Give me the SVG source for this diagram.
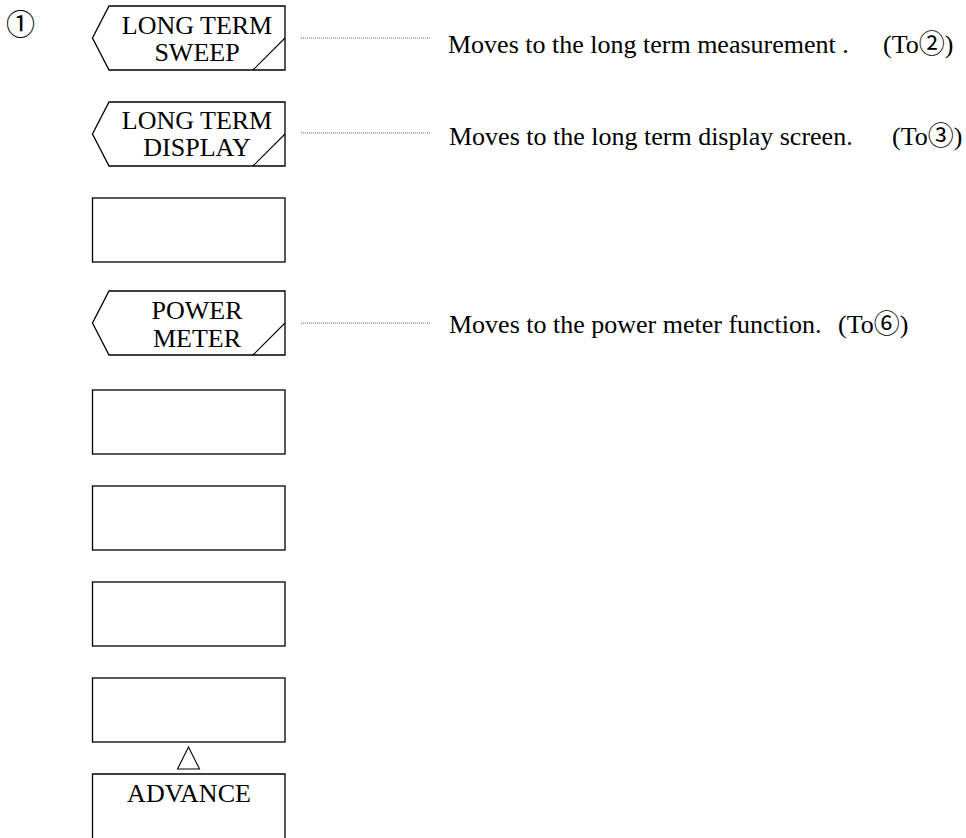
<svg xmlns="http://www.w3.org/2000/svg" width="966" height="838" viewBox="0 0 966 838">
<style>
.btn{fill:#fff;stroke:#000;stroke-width:1.3}
.diag{fill:none;stroke:#000;stroke-width:1.1}
.lbl{font-family:"Liberation Serif","Times New Roman","Noto Sans CJK JP",serif;font-size:26px;fill:#000;text-anchor:middle}
.desc{font-family:"Liberation Serif","Times New Roman","Noto Sans CJK JP",serif;font-size:26px;fill:#000}
.dot{stroke:#666;stroke-width:1;stroke-dasharray:1 1;fill:none}
</style>
<rect width="966" height="838" fill="#fff"/>
<text class="desc" x="6" y="35" style="font-size:29px">①</text>
<g id="btn1">
<path class="btn" d="M109,6 H285 V70 H109 L92.5,38 Z"/>
<path class="diag" d="M253,70 L285,38"/>
<text class="lbl" x="197" y="33.5">LONG TERM</text>
<text class="lbl" x="197" y="60.5">SWEEP</text>
</g>
<g id="btn2">
<path class="btn" d="M109,102 H285 V166 H109 L92.5,134 Z"/>
<path class="diag" d="M253,166 L285,134"/>
<text class="lbl" x="197" y="128.5">LONG TERM</text>
<text class="lbl" x="197" y="156">DISPLAY</text>
</g>
<g id="btn3"><rect class="btn" x="92.5" y="198" width="192.5" height="64"/></g>
<g id="btn4">
<path class="btn" d="M109,291 H285 V355 H109 L92.5,323 Z"/>
<path class="diag" d="M253,355 L285,323"/>
<text class="lbl" x="197" y="319">POWER</text>
<text class="lbl" x="197" y="346.5">METER</text>
</g>
<g id="btn5"><rect class="btn" x="92.5" y="390" width="192.5" height="64"/></g>
<g id="btn6"><rect class="btn" x="92.5" y="486" width="192.5" height="64"/></g>
<g id="btn7"><rect class="btn" x="92.5" y="582" width="192.5" height="64"/></g>
<g id="btn8"><rect class="btn" x="92.5" y="678" width="192.5" height="64"/></g>
<g id="arrow"><path class="diag" d="M188.5,747 L199.5,769 H177.5 Z"/></g>
<g id="advance">
<path class="btn" fill="none" d="M92.5,838 V774 H285 V838"/>
<text class="lbl" x="189" y="801.5">ADVANCE</text>
</g>
<g id="connectors">
<line class="dot" x1="301" y1="38" x2="430" y2="38"/>
<line class="dot" x1="301" y1="133" x2="430" y2="133"/>
<line class="dot" x1="301" y1="323" x2="430" y2="323"/>
</g>
<g id="descriptions">
<text class="desc" x="448" y="52.5">Moves to the long term measurement .</text>
<text class="desc" x="883" y="52.5">(To②)</text>
<text class="desc" x="449" y="145">Moves to the long term display screen.</text>
<text class="desc" x="892" y="145">(To③)</text>
<text class="desc" x="449" y="333">Moves to the power meter function.</text>
<text class="desc" x="838" y="333">(To⑥)</text>
</g>
</svg>
